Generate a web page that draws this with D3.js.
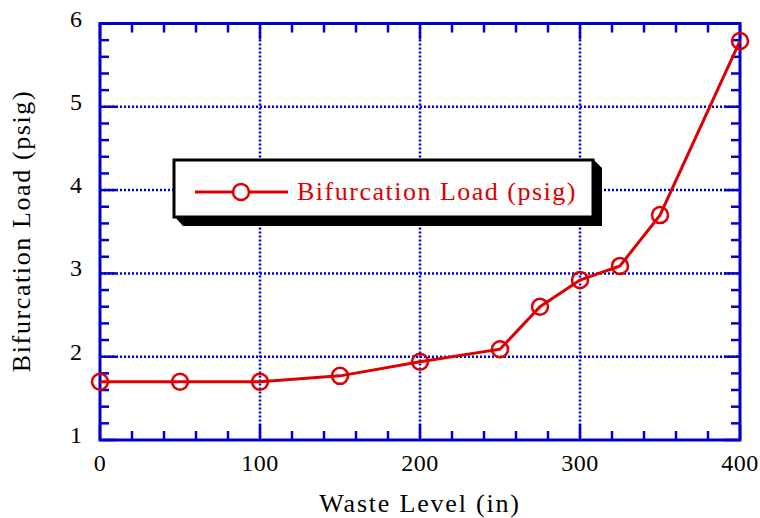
<!DOCTYPE html>
<html>
<head>
<meta charset="utf-8">
<script src="https://cdn.jsdelivr.net/npm/d3@7"></script>
<style>
  html, body { margin: 0; padding: 0; background: #fff; }
  svg text { font-family: "Liberation Serif", "DejaVu Serif", serif; }
</style>
</head>
<body>
<svg id="chart" width="760" height="518"></svg>
<script>
// Waste level (in) vs. bifurcation load (psig)
const wasteLevel = [0, 50, 100, 150, 200, 250, 275, 300, 325, 350, 400];
const bifurcationLoad = [1.70, 1.70, 1.70, 1.77, 1.94, 2.09, 2.60, 2.92, 3.09, 3.70, 5.79];
const xTicks = [0, 100, 200, 300, 400];
const yTicks = [1, 2, 3, 4, 5, 6];
const seriesName = "Bifurcation Load (psig)";

const svg = d3.select("#chart");
const m = { left: 100, right: 740, top: 23.5, bottom: 440 };
const blue = "#0000cc";
const red = "#dd0000";

const x = d3.scaleLinear().domain([0, 400]).range([m.left, m.right]);
const y = d3.scaleLinear().domain([1, 6]).range([m.bottom, m.top]);

// dotted grid
const grid = svg.append("g");
grid.selectAll("line.gx").data(xTicks.slice(1, -1)).join("line")
  .attr("x1", d => x(d)).attr("x2", d => x(d))
  .attr("y1", m.top).attr("y2", m.bottom)
  .attr("stroke", blue).attr("stroke-width", 2.5).attr("stroke-dasharray", "2,2");
grid.selectAll("line.gy").data(yTicks.slice(1, -1)).join("line")
  .attr("y1", d => y(d)).attr("y2", d => y(d))
  .attr("x1", m.left).attr("x2", m.right)
  .attr("stroke", blue).attr("stroke-width", 2.5).attr("stroke-dasharray", "2,2");

// inward ticks on all four sides
const xMinor = d3.range(0, 401, 20).filter(v => v % 100 !== 0);
const yMinor = d3.range(10, 61, 2).map(v => v / 10).filter(v => Math.abs(v - Math.round(v)) > 1e-6);
const tickG = svg.append("g").attr("stroke", blue).attr("stroke-width", 2.5);

function addTicks(vals, len, isX) {
  vals.forEach(v => {
    if (isX) {
      tickG.append("line").attr("x1", x(v)).attr("x2", x(v)).attr("y1", m.bottom).attr("y2", m.bottom - len);
      tickG.append("line").attr("x1", x(v)).attr("x2", x(v)).attr("y1", m.top).attr("y2", m.top + len);
    } else {
      tickG.append("line").attr("y1", y(v)).attr("y2", y(v)).attr("x1", m.left).attr("x2", m.left + len);
      tickG.append("line").attr("y1", y(v)).attr("y2", y(v)).attr("x1", m.right).attr("x2", m.right - len);
    }
  });
}
addTicks(xMinor, 9, true);
addTicks(yMinor, 9, false);
addTicks(xTicks, 16, true);
addTicks(yTicks, 16, false);

// frame
svg.append("rect")
  .attr("x", m.left).attr("y", m.top)
  .attr("width", m.right - m.left).attr("height", m.bottom - m.top)
  .attr("fill", "none").attr("stroke", blue).attr("stroke-width", 3);

// tick labels
svg.append("g").selectAll("text").data(xTicks).join("text")
  .attr("x", d => x(d)).attr("y", 471)
  .attr("text-anchor", "middle").attr("font-size", 24).attr("letter-spacing", 0.5).attr("fill", "#000")
  .text(d => d);
svg.append("g").selectAll("text").data(yTicks).join("text")
  .attr("x", 82).attr("y", d => y(d) + 3)
  .attr("text-anchor", "end").attr("font-size", 24).attr("fill", "#000")
  .text(d => d);

// axis titles
svg.append("text").attr("x", 420).attr("y", 512).attr("text-anchor", "middle")
  .attr("font-size", 26).attr("letter-spacing", 1.8).text("Waste Level (in)");
svg.append("text").attr("transform", "translate(30,231) rotate(-90)")
  .attr("text-anchor", "middle").attr("font-size", 26).attr("letter-spacing", 1.6)
  .text("Bifurcation Load (psig)");

// legend with drop shadow
const lg = svg.append("g");
lg.append("path")
  .attr("d", "M175,217 L183,226 L602,226 L602,168 L593,159 L593,217 Z")
  .attr("fill", "#000");
lg.append("rect").attr("x", 174).attr("y", 160).attr("width", 419).attr("height", 57)
  .attr("fill", "#fff").attr("stroke", "#000").attr("stroke-width", 3);
lg.append("line").attr("x1", 195).attr("x2", 288).attr("y1", 192).attr("y2", 192)
  .attr("stroke", red).attr("stroke-width", 3);
lg.append("circle").attr("cx", 241).attr("cy", 192).attr("r", 8)
  .attr("fill", "#fff").attr("stroke", red).attr("stroke-width", 2.5);
lg.append("text").attr("x", 297).attr("y", 200).attr("font-size", 26)
  .attr("letter-spacing", 1.5).attr("fill", red).text(seriesName);

// data series
const pts = wasteLevel.map((w, i) => [w, bifurcationLoad[i]]);
svg.append("path").datum(pts)
  .attr("d", d3.line().x(d => x(d[0])).y(d => y(d[1])))
  .attr("fill", "none").attr("stroke", red).attr("stroke-width", 3);
svg.append("g").selectAll("circle").data(pts).join("circle")
  .attr("cx", d => x(d[0])).attr("cy", d => y(d[1])).attr("r", 8)
  .attr("fill", "none").attr("stroke", red).attr("stroke-width", 2.5);
</script>
</body>
</html>
